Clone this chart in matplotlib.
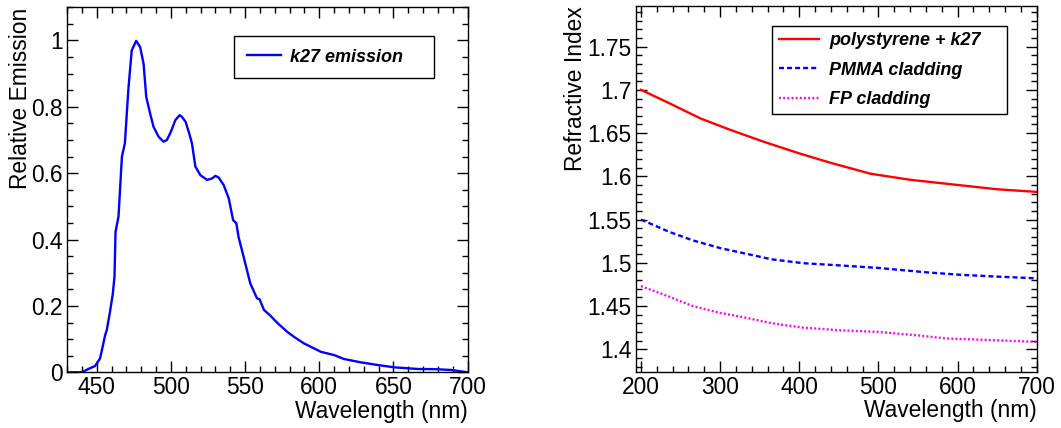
import matplotlib
matplotlib.use("Agg")
import matplotlib.pyplot as plt
from matplotlib.ticker import MultipleLocator, FuncFormatter

plt.rcParams['font.family'] = ['Liberation Sans', 'DejaVu Sans']
plt.rcParams['lines.scale_dashes'] = False

# ---- data: k27 emission spectrum ----
emis_wl = [430, 440, 444.4, 448.9, 452.3, 455.7, 456.8, 459, 460.9, 462, 462.7, 464.7,
           467, 469, 471.3, 473.6, 476.6, 479.3, 481.6, 483.4, 486, 488.3, 491.7, 495,
           497.3, 500, 503, 505.9, 507.4, 509.9, 512, 514.2, 516.5, 519.9, 524.4, 527.7,
           530, 532.2, 535.6, 539, 541.9, 544.1, 545.6, 549, 553.5, 558, 559.8, 562.7,
           567.2, 571.7, 578.4, 582.9, 589.7, 596.5, 600.9, 609.9, 616.7, 628, 639.3,
           650.5, 666.3, 677.6, 688.8, 700]
emis_val = [0.0, 0.0, 0.01, 0.019, 0.042, 0.112, 0.127, 0.183, 0.238, 0.288, 0.423, 0.469,
            0.65, 0.69, 0.85, 0.97, 0.999, 0.98, 0.93, 0.83, 0.78, 0.74, 0.71, 0.695,
            0.70, 0.725, 0.76, 0.775, 0.77, 0.755, 0.725, 0.69, 0.62, 0.594, 0.58, 0.584,
            0.592, 0.587, 0.564, 0.524, 0.459, 0.449, 0.408, 0.348, 0.268, 0.223, 0.22, 0.188,
            0.17, 0.149, 0.122, 0.107, 0.087, 0.072, 0.062, 0.052, 0.04, 0.03, 0.022,
            0.015, 0.01, 0.0095, 0.007, 0.0]
emis_label = "k27 emission"

# ---- data: refractive indices ----
ps_wl = [200, 237, 275, 312, 355, 400, 440, 490, 540, 600, 650, 700]
ps_n = [1.700, 1.684, 1.667, 1.654, 1.640, 1.6265, 1.6155, 1.603, 1.596, 1.590, 1.585, 1.582]
pmma_wl = [200, 235, 265, 300, 335, 365, 405, 450, 500, 560, 605, 650, 700]
pmma_n = [1.550, 1.536, 1.526, 1.517, 1.510, 1.504, 1.4995, 1.497, 1.494, 1.489, 1.486, 1.484, 1.482]
fp_wl = [200, 235, 265, 300, 335, 365, 405, 450, 500, 550, 585, 630, 700]
fp_n = [1.473, 1.461, 1.450, 1.442, 1.436, 1.430, 1.425, 1.422, 1.420, 1.416, 1.4125, 1.411, 1.4085]
ri_labels = ["polystyrene + k27", "PMMA cladding", "FP cladding"]

W, H = 1061, 428
fig = plt.figure(figsize=(W / 100, H / 100), dpi=100)

ax1 = fig.add_axes([67 / W, 1 - 372.3 / H, 400.7 / W, 365 / H])
ax2 = fig.add_axes([635.7 / W, 1 - 371.7 / H, 401 / W, 365.7 / H])

fs = 16.4
lfs = 13
gfmt = FuncFormatter(lambda v, p: "%g" % round(v, 4))


def style(ax):
    for s in ax.spines.values():
        s.set_linewidth(1.0)
        s.set_color('black')
    ax.tick_params(which='both', direction='in', top=True, right=True, colors='black',
                   labelsize=fs, width=1.0)
    ax.tick_params(which='major', length=8)
    ax.tick_params(which='minor', length=4.5)
    ax.tick_params(axis='y', pad=3)
    ax.tick_params(axis='x', pad=3)
    ax.yaxis.set_major_formatter(gfmt)


# ---- left panel ----
ax1.plot(emis_wl, emis_val, color='#0000ff', lw=1.7, label=emis_label)
ax1.set_xlim(430, 700)
ax1.set_ylim(0, 1.1)
ax1.xaxis.set_major_locator(MultipleLocator(50))
ax1.xaxis.set_minor_locator(MultipleLocator(10))
ax1.yaxis.set_major_locator(MultipleLocator(0.2))
ax1.yaxis.set_minor_locator(MultipleLocator(0.05))
style(ax1)
ax1.set_xlabel("Wavelength (nm)", fontsize=fs, loc='right')
ax1.set_ylabel("Relative Emission", fontsize=fs, loc='top')
ax1.yaxis.set_label_coords(-0.0875, 1.0)
ax1.xaxis.set_label_coords(1.0, -0.075)
leg1 = ax1.legend(loc='upper left', bbox_to_anchor=(0.417, 0.806, 0.499, 0.115), mode='expand',
                  prop={'weight': 'bold', 'style': 'italic', 'size': lfs},
                  fancybox=False, edgecolor='black', framealpha=1, borderpad=0.7,
                  handlelength=1.9, handletextpad=0.5, borderaxespad=0)
leg1.get_frame().set_linewidth(1.0)

# ---- right panel ----
ax2.plot(ps_wl, ps_n, color='#ff0000', lw=1.7, label=ri_labels[0])
ax2.plot(pmma_wl, pmma_n, color='#0000ff', lw=1.7, ls=(0, (3.6, 2.2)), label=ri_labels[1])
ax2.plot(fp_wl, fp_n, color='#ff00ff', lw=1.7, ls=(0, (1.4, 1.6)), label=ri_labels[2])
ax2.set_xlim(193.3, 700)
ax2.set_ylim(1.374, 1.797)
ax2.xaxis.set_major_locator(MultipleLocator(100))
ax2.xaxis.set_minor_locator(MultipleLocator(20))
ax2.yaxis.set_major_locator(MultipleLocator(0.05))
ax2.yaxis.set_minor_locator(MultipleLocator(0.01))
style(ax2)
ax2.set_xlabel("Wavelength (nm)", fontsize=fs, loc='right')
ax2.set_ylabel("Refractive Index", fontsize=fs, loc='top')
ax2.yaxis.set_label_coords(-0.1205, 1.0)
ax2.xaxis.set_label_coords(1.0, -0.075)
leg2 = ax2.legend(loc='upper left', bbox_to_anchor=(0.341, 0.708, 0.586, 0.237), mode='expand',
                  prop={'weight': 'bold', 'style': 'italic', 'size': lfs},
                  fancybox=False, edgecolor='black', framealpha=1, borderpad=0.35,
                  labelspacing=0.68, handlelength=2.25, handletextpad=0.55, borderaxespad=0)
leg2.get_frame().set_linewidth(1.0)

fig.savefig("out.png", dpi=100)
